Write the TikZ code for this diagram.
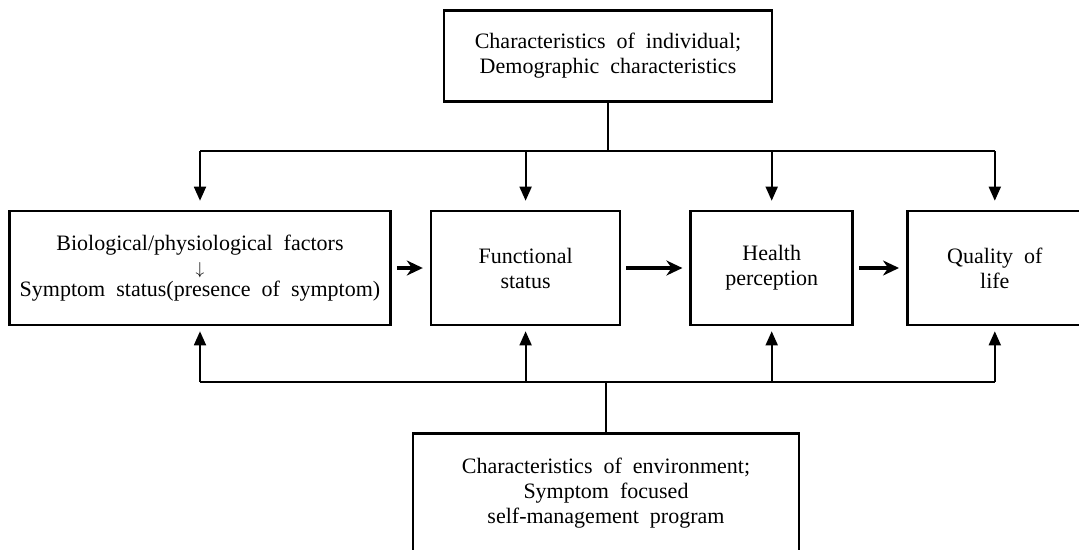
\documentclass[tikz,border=0pt]{standalone}
\usepackage{fontspec}
\setmainfont{Liberation Serif}
\usetikzlibrary{positioning,arrows.meta}

\newcommand\boxfont{\fontsize{22}{25}\selectfont\spaceskip 0.5em\relax}

\tikzset{
  box/.style={draw, line width=2.6pt, align=center, inner sep=0pt,
    minimum height=114pt, font=\boxfont},
  link/.style={line width=1.8pt},
  feed/.style={link, -{Triangle[length=14pt,width=12pt]}},
  flow/.style={line width=3.6pt, -{Stealth[length=16pt,width=15pt]},
    shorten <=5pt, shorten >=7pt},
}

\begin{document}
\begin{tikzpicture}[x=1pt,y=-1pt]
      \clip (0,0) rectangle (1079,549);
      % Define nodes
      \node[box, minimum width=328pt, minimum height=91pt] (indiv) at (608,56)
        {Characteristics of individual;\\ Demographic characteristics};
      \node[box, minimum width=381pt] (bio) at (200,268)
        {Biological/physiological factors\\[-1pt] {\fontsize{17}{20}\selectfont$\downarrow$}\\[-3pt] Symptom status(presence of symptom)};
      \node[box, minimum width=189pt, right=38pt of bio] (func) {Functional\\ status};
      \node[box, minimum width=162pt, right=68pt of func] (health) {Health\\ perception};
      \node[box, minimum width=175pt, right=52pt of health] (qol) {Quality of\\ life};
      \node[box, minimum width=386pt, minimum height=120pt, anchor=north] (env) at (606,432)
        {Characteristics of environment;\\ Symptom focused\\ self-management program};
      \coordinate (topbus) at (608,151);
      \coordinate (lowbus) at (606,382);
      % Define edges
      \draw[link] (indiv) -- (indiv.south |- topbus);
      \draw[link] (bio.north |- topbus) -- (qol.north |- topbus);
      \draw[feed, shorten >=9pt] (bio.north |- topbus) -- (bio.north);
      \draw[feed, shorten >=9pt] (func.north |- topbus) -- (func.north);
      \draw[feed, shorten >=9pt] (health.north |- topbus) -- (health.north);
      \draw[feed, shorten >=9pt] (qol.north |- topbus) -- (qol.north);
      \draw[link] (env) -- (env.north |- lowbus);
      \draw[link] (bio.south |- lowbus) -- (qol.south |- lowbus);
      \draw[feed, shorten >=5pt] (bio.south |- lowbus) -- (bio.south);
      \draw[feed, shorten >=5pt] (func.south |- lowbus) -- (func.south);
      \draw[feed, shorten >=5pt] (health.south |- lowbus) -- (health.south);
      \draw[feed, shorten >=5pt] (qol.south |- lowbus) -- (qol.south);
      \draw[flow] (bio) -- (func);
      \draw[flow] (func) -- (health);
      \draw[flow] (health) -- (qol);
    \end{tikzpicture}
\end{document}
